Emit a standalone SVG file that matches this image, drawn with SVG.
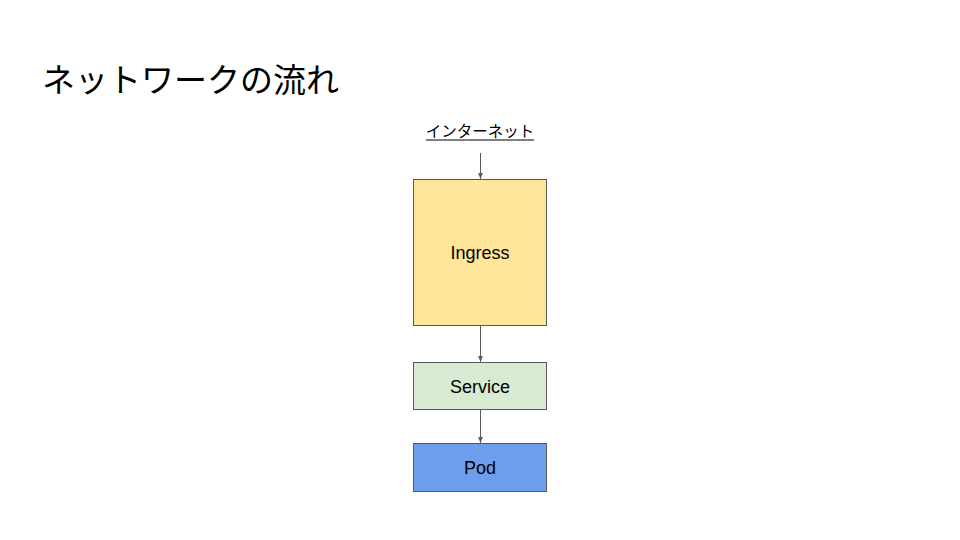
<svg xmlns="http://www.w3.org/2000/svg" width="960" height="540" viewBox="0 0 960 540">
<defs>
<style>
.box{stroke:#595959;stroke-width:1}
.lbl{font-family:"Liberation Sans",Arial,sans-serif;font-size:18px;fill:#000;text-anchor:middle}
.jp{font-family:"Noto Sans CJK JP","Liberation Sans",sans-serif;fill:#000}
.conn{stroke:#595959;stroke-width:1;fill:none;marker-end:url(#ah)}
</style>
<marker id="ah" viewBox="0 0 10 10" refX="10" refY="5" markerWidth="6" markerHeight="6" orient="auto" markerUnits="userSpaceOnUse">
<path d="M0,1 L10,5 L0,9 z" fill="#595959"/>
</marker>
</defs>
<rect width="960" height="540" fill="#fff"/>
<text class="jp" x="42" y="92" font-size="33">ネットワークの流れ</text>
<g id="internet">
<text class="jp" x="480" y="137" font-size="15.5" text-anchor="middle">インターネット</text>
<line x1="426" y1="140" x2="534" y2="140" stroke="#000" stroke-width="1"/>
</g>
<g id="ingress">
<rect class="box" x="413.5" y="179.5" width="133" height="146" fill="#ffe599"/>
<text class="lbl" x="480" y="259">Ingress</text>
</g>
<g id="service">
<rect class="box" x="413.5" y="362.5" width="133" height="47" fill="#d9ead3"/>
<text class="lbl" x="480" y="393">Service</text>
</g>
<g id="pod">
<rect class="box" x="413.5" y="443.5" width="133" height="48" fill="#6d9eeb"/>
<text class="lbl" x="480" y="474">Pod</text>
</g>
<g id="connectors">
<line class="conn" x1="480.5" y1="153" x2="480.5" y2="179"/>
<line class="conn" x1="480.5" y1="326" x2="480.5" y2="362"/>
<line class="conn" x1="480.5" y1="410" x2="480.5" y2="443"/>
</g>
</svg>
